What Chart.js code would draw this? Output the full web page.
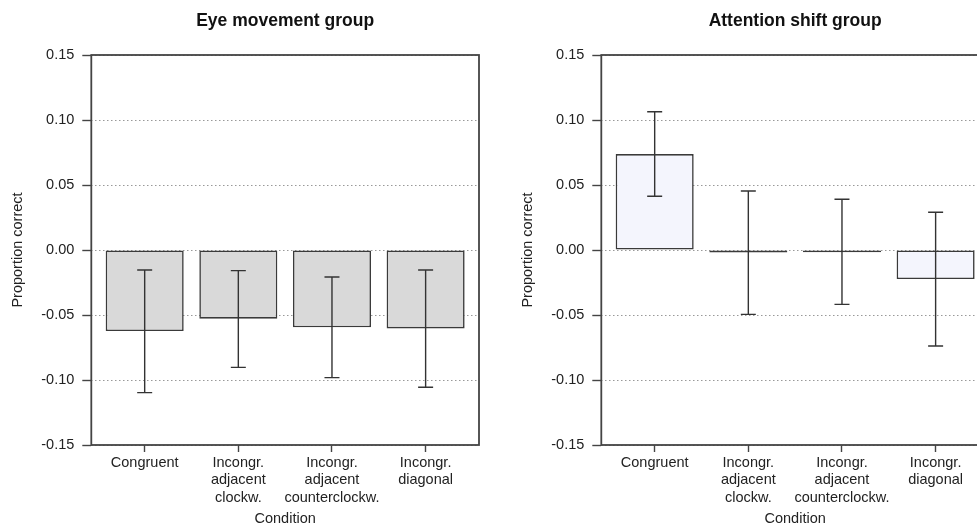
<!DOCTYPE html>
<html>
<head>
<meta charset="utf-8">
<script src="https://cdn.jsdelivr.net/npm/chart.js@4/dist/chart.umd.min.js"></script>
<style>
  html, body { margin: 0; padding: 0; background: #fff; overflow: hidden; }
  body { width: 977px; height: 526px; position: relative; }
  canvas { position: absolute; top: 0; }
  #eye { left: 0; }
  #att { left: 510px; }
</style>
</head>
<body>
<canvas id="eye" width="510" height="528"></canvas>
<canvas id="att" width="510" height="528"></canvas>
<script>
// conditions, in barplot order
const conditions = [
  ["Congruent"],
  ["Incongr.", "adjacent", "clockw."],
  ["Incongr.", "adjacent", "counterclockw."],
  ["Incongr.", "diagonal"],
];
// bar centres in barplot units (width 1, space 0.2)
const barCenters = [0.7, 1.9, 3.1, 4.3];

// eye movement group
const eyeMeans = [-0.0623, -0.0528, -0.0595, -0.0603];
const eyeLower = [-0.1097, -0.0903, -0.0982, -0.1056];
const eyeUpper = [-0.0154, -0.0159, -0.0208, -0.0154];

// attention shift group
const attMeans = [0.0738, -0.002, -0.0018, -0.0223];
const attLower = [0.0413, -0.0495, -0.0418, -0.0738];
const attUpper = [0.1064, 0.0454, 0.039, 0.029];

const FONT = "'Liberation Sans', Arial, Helvetica, sans-serif";
Chart.defaults.font.family = FONT;
Chart.defaults.color = "#222";

// error bars + the box around the plot
const errorBars = {
  id: "errorBars",
  afterDatasetsDraw(chart, args, opts) {
    const { ctx, chartArea, scales } = chart;
    const x = scales.x, y = scales.y;
    ctx.save();
    ctx.strokeStyle = "#333";
    ctx.lineWidth = 1.4;
    opts.lower.forEach((lo, i) => {
      const px = x.getPixelForValue(barCenters[i]);
      const pLo = y.getPixelForValue(lo);
      const pHi = y.getPixelForValue(opts.upper[i]);
      ctx.beginPath();
      ctx.moveTo(px, pLo);
      ctx.lineTo(px, pHi);
      ctx.moveTo(px - 7.5, pLo);
      ctx.lineTo(px + 7.5, pLo);
      ctx.moveTo(px - 7.5, pHi);
      ctx.lineTo(px + 7.5, pHi);
      ctx.stroke();
    });
    // box
    ctx.strokeStyle = "#444";
    ctx.lineWidth = 1.8;
    ctx.strokeRect(chartArea.left, chartArea.top,
      chartArea.right - chartArea.left, chartArea.bottom - chartArea.top);
    ctx.restore();
  },
};

function makeChart(id, title, means, lower, upper, fill) {
  return new Chart(document.getElementById(id), {
    type: "bar",
    data: {
      datasets: [
        {
          data: means.map((v, i) => ({ x: barCenters[i], y: v })),
          backgroundColor: fill,
          borderColor: "#3a3a3a",
          borderWidth: 1.6,
          borderSkipped: false,
          categoryPercentage: 1,
          barPercentage: 1 / 1.2,
        },
      ],
    },
    options: {
      responsive: false,
      animation: false,
      layout: { padding: { left: 0, right: 31, top: 0, bottom: 0 } },
      plugins: {
        legend: { display: false },
        tooltip: { enabled: false },
        title: {
          display: true,
          text: title,
          fullSize: false,
          color: "#111",
          font: { size: 17.5, weight: "bold", family: FONT },
          padding: { top: 10.5, bottom: 23.5 },
        },
        errorBars: { lower: lower, upper: upper },
      },
      scales: {
        x: {
          type: "linear",
          offset: false,
          min: 0.016,
          max: 4.984,
          afterBuildTicks: (s) => {
            s.ticks = barCenters.map((v) => ({ value: v }));
          },
          afterFit: (s) => {
            s.height = 83;
          },
          grid: {
            offset: false,
            drawOnChartArea: false,
            drawTicks: true,
            tickLength: 7,
            tickColor: "#444",
            tickWidth: 1.4,
          },
          border: { display: false },
          ticks: {
            autoSkip: false,
            maxRotation: 0,
            padding: 2.3,
            color: "#222",
            font: { size: 14.5 },
            callback: (v, i) => conditions[i],
          },
          title: {
            display: true,
            text: "Condition",
            color: "#222",
            font: { size: 14.5 },
            padding: { top: 0, bottom: 0 },
          },
        },
        y: {
          min: -0.15,
          max: 0.15,
          afterFit: (s) => {
            s.width = 91.3;
          },
          grid: {
            color: "#999",
            lineWidth: 1,
            drawTicks: true,
            tickLength: 9,
            tickColor: "#444",
            tickWidth: 1.4,
            tickBorderDash: [],
          },
          border: { display: false, dash: [1.5, 2.5] },
          ticks: {
            stepSize: 0.05,
            padding: 8,
            color: "#222",
            font: { size: 14.5 },
            callback: (v) => (Math.abs(v) < 1e-9 ? "0.00" : v.toFixed(2)),
          },
          title: {
            display: true,
            text: "Proportion correct",
            color: "#222",
            font: { size: 14.5 },
            padding: { top: 9.3, bottom: 0 },
          },
        },
      },
    },
    plugins: [errorBars],
  });
}

makeChart("eye", "Eye movement group", eyeMeans, eyeLower, eyeUpper, "#d9d9d9");
makeChart("att", "Attention shift group", attMeans, attLower, attUpper, "#f4f5fd");
</script>
</body>
</html>
